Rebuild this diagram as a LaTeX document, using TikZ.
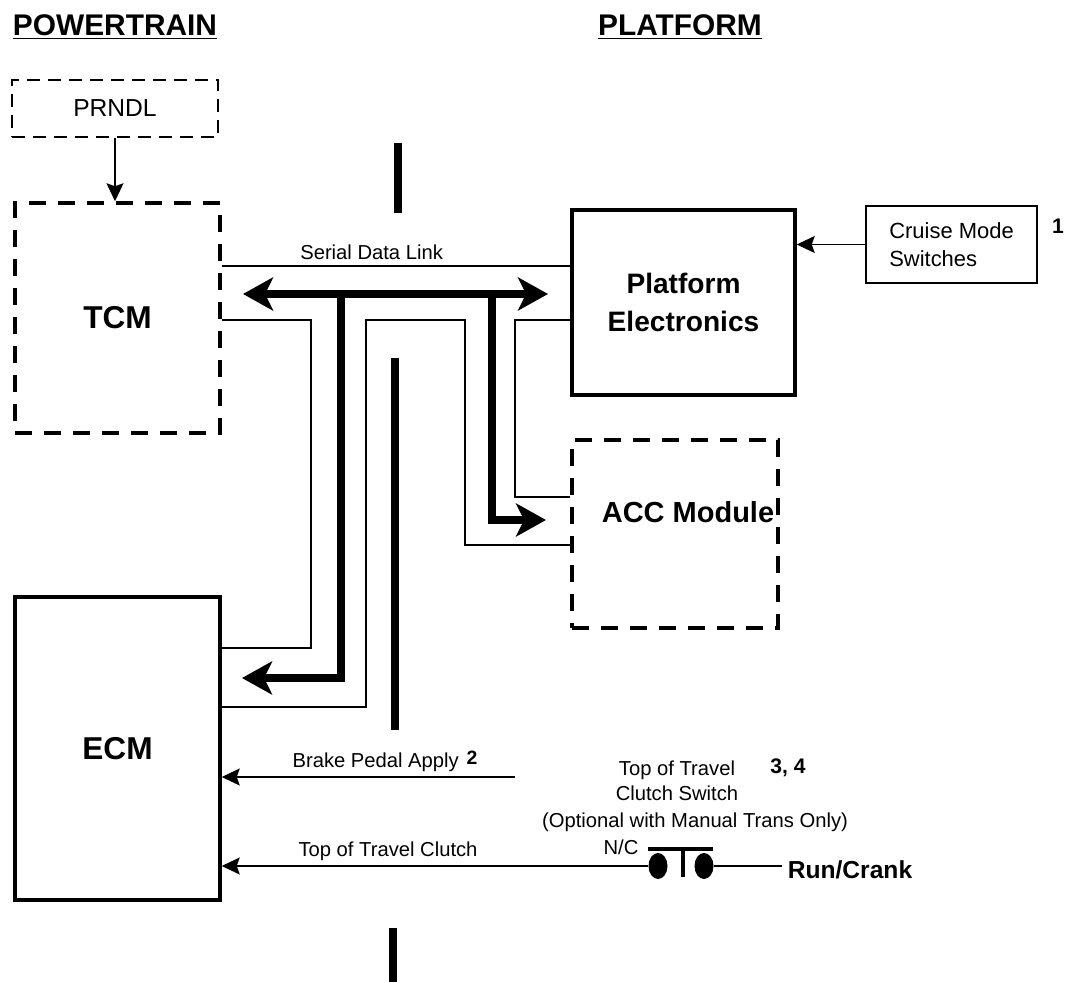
\documentclass[tikz,border=0pt]{standalone}
\usepackage{fontspec}
\setmainfont{Liberation Sans}
\usetikzlibrary{arrows.meta,positioning,shapes.geometric}

\begin{document}
\begin{tikzpicture}[x=0.02cm, y=-0.02cm,
        lbl/.style={font=\fontsize{11.5}{14.2}\selectfont, inner sep=0pt},
        note/.style={font=\fontsize{12}{14}\selectfont\bfseries, inner sep=0pt},
        big/.style={font=\fontsize{18}{22}\selectfont\bfseries},
        title/.style={font=\fontsize{17}{20}\selectfont\bfseries},
        dbox/.style={draw, line width=2pt, dash pattern=on 0.34cm off 0.24cm},
        sbox/.style={draw, line width=2pt},
        contact/.style={ellipse, fill, minimum width=0.38cm, minimum height=0.52cm, inner sep=0pt},
        sig/.style={line width=0.8pt, >={Stealth[length=0.36cm, width=0.34cm, inset=0.06cm]}},
        bus/.style={line width=4pt, >={Stealth[length=0.6cm, width=0.66cm, inset=0.16cm]}},
        divider/.style={line width=4.5pt}]
        \useasboundingbox (0,0) rectangle (1074,982);

        \node[title] (powertrain) at (115,27) {\underline{POWERTRAIN}};
        \node[title] (platformhead) at (680,27) {\underline{PLATFORM}};

        \node[draw, line width=1.5pt, dash pattern=on 0.26cm off 0.16cm, minimum width=4.12cm, minimum height=1.14cm,
              font=\fontsize{14}{17}\selectfont] (prndl) at (115,108.5) {PRNDL};
        \node[dbox, minimum width=4.1cm, minimum height=4.6cm, big] (tcm) at (117.5,318) {TCM};
        \node[sbox, minimum width=4.1cm, minimum height=6.06cm, big] (ecm) at (117.5,748.5) {ECM};
        \node[sbox, minimum width=4.46cm, minimum height=3.7cm, align=center,
              font=\fontsize{16}{22}\selectfont\bfseries] (platform) at (683.5,302.5) {Platform\\Electronics};
        \node[draw, line width=1.2pt, minimum width=3.42cm, minimum height=1.54cm, align=left,
              font=\fontsize{12.5}{16}\selectfont] (cruise) at (951.5,244.5) {Cruise Mode\\Switches};
        \node[note] (note1) at (1058,226) {1};
        \node[dbox, minimum width=4.12cm, minimum height=3.76cm] (acc) at (675,534) {};
        \node[font=\fontsize{16.5}{20}\selectfont\bfseries] (acctext) at (688,512) {ACC Module};

        \draw[divider] (398,143) -- (398,213);
        \draw[divider] (395,358) -- (395,730);
        \draw[divider] (393,928) -- (393,982);

        \draw[sig, ->] (prndl.south) -- (prndl.south |- tcm.north);
        \draw[sig, ->] (cruise.west) -- (platform.east |- cruise.west);
        \draw[sig] (tcm.east |- 0,266) -- node[lbl, above=3pt, pos=0.43] {Serial Data Link} (platform.west |- 0,266);

        \coordinate (busw) at (243,294);
        \coordinate (buse) at (548,294);
        \coordinate (tapa) at (341,294);
        \coordinate (tapb) at (492,294);
        \coordinate (ecmbus) at (242,678);
        \coordinate (accbus) at (546,520);
        \draw[bus, <->] (busw) -- (buse);
        \draw[bus, ->] (tapa) |- (ecmbus);
        \draw[bus, ->] (tapb) |- (accbus);

        \draw[sig] (tcm.east |- 0,320) -| (311,648) -- (ecm.east |- 0,648);
        \draw[sig] (ecm.east |- 0,707) -| (366,320) -| (465,545) -- (acc.west |- 0,545);
        \draw[sig] (platform.west |- 0,320) -| (515,497) -- (acc.west |- 0,497);

        \coordinate (brakesrc) at (515,777);
        \draw[sig, ->] (brakesrc) -- node[lbl, above=2.5pt, pos=0.475] {Brake Pedal Apply} (ecm.east |- brakesrc);
        \node[note, font=\fontsize{11}{13}\selectfont\bfseries] (note2) at (472,758) {2};

        \node[contact] (swl) at (658,866) {};
        \node[contact] (swr) at (704,866) {};
        \draw[line width=2.2pt] (648,849) -- (713,849);
        \draw[line width=2.8pt] (683,849) -- (683,877);
        \node[font=\fontsize{14}{17}\selectfont\bfseries] (runcrank) at (850,870) {Run/Crank};
        \draw[sig] (swr.east) -- (swr.east -| runcrank.west);
        \draw[sig, ->] (swl.west) -- node[lbl, above=2.5pt, pos=0.61] {Top of Travel Clutch} (ecm.east |- swl.west);

        \node[lbl, align=center] (swname) at (677,781) {Top of Travel\\Clutch Switch};
        \node[note] (note34) at (788,768) {3, 4};
        \node[lbl] (swnote) at (695,822) {(Optional with Manual Trans Only)};
        \node[lbl] (nc) at (621,847) {N/C};
    \end{tikzpicture}
\end{document}
